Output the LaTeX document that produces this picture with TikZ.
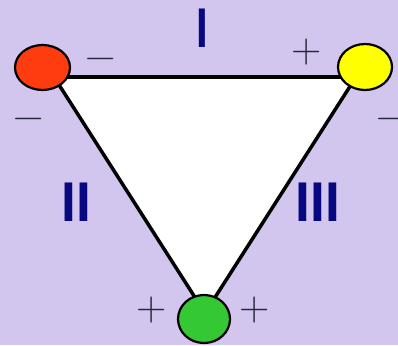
\documentclass[tikz,border=0pt]{standalone}
\usepackage{fontspec}
\setsansfont{Liberation Sans}
\usetikzlibrary{shapes.geometric}
\definecolor{bg}{RGB}{210,198,238}
\definecolor{numblue}{RGB}{8,8,128}
\definecolor{signcol}{RGB}{40,40,60}
\definecolor{redball}{RGB}{255,60,16}
\definecolor{yellowball}{RGB}{255,255,0}
\definecolor{greenball}{RGB}{52,200,52}
\tikzset{
  ball/.style={ellipse, draw=black, line width=2.2pt, inner sep=0pt},
  roman/.style={font=\fontsize{56}{56}\selectfont\sffamily\bfseries, text=numblue, inner sep=0pt},
  sign/.style={font=\fontsize{42}{42}\selectfont, text=signcol, inner sep=0pt},
  side/.style={line width=3.5pt, line join=round, line cap=round}
}
\begin{document}
\begin{tikzpicture}[x=1pt,y=-1pt]
\fill[bg] (0,0) rectangle (398,345);
\useasboundingbox (0,0) rectangle (398,345);
% triangle corners
\coordinate (tl) at (54,77);
\coordinate (tr) at (356,77);
\coordinate (bt) at (205,313);
\fill[white] (tl) -- (tr) -- (bt) -- cycle;
\draw[side] (tl) -- (tr);
\draw[side] (tl) -- (bt);
\draw[side] (tr) -- (bt);
% balls
\node[ball, fill=redball, minimum width=55pt, minimum height=45pt] (red) at (42.5,67.5) {};
\node[ball, fill=yellowball, minimum width=54pt, minimum height=46pt] (yellow) at (365,67) {};
\node[ball, fill=greenball, minimum width=52pt, minimum height=48pt] (green) at (204,319) {};
% roman numerals
\node[roman, xscale=0.75] (one) at (202,28) {I};
\node[roman, xscale=0.95] (two) at (76,202) {II};
\node[roman, xscale=0.95] (three) at (318,202) {III};
% signs
\node[sign] (s1) at (101,64) {−};
\node[sign] (s2) at (307,52) {+};
\node[sign] (s3) at (29,124) {−};
\node[sign] (s4) at (392,124) {−};
\node[sign] (s5) at (152,310) {+};
\node[sign] (s6) at (255,310) {+};
\end{tikzpicture}
\end{document}
